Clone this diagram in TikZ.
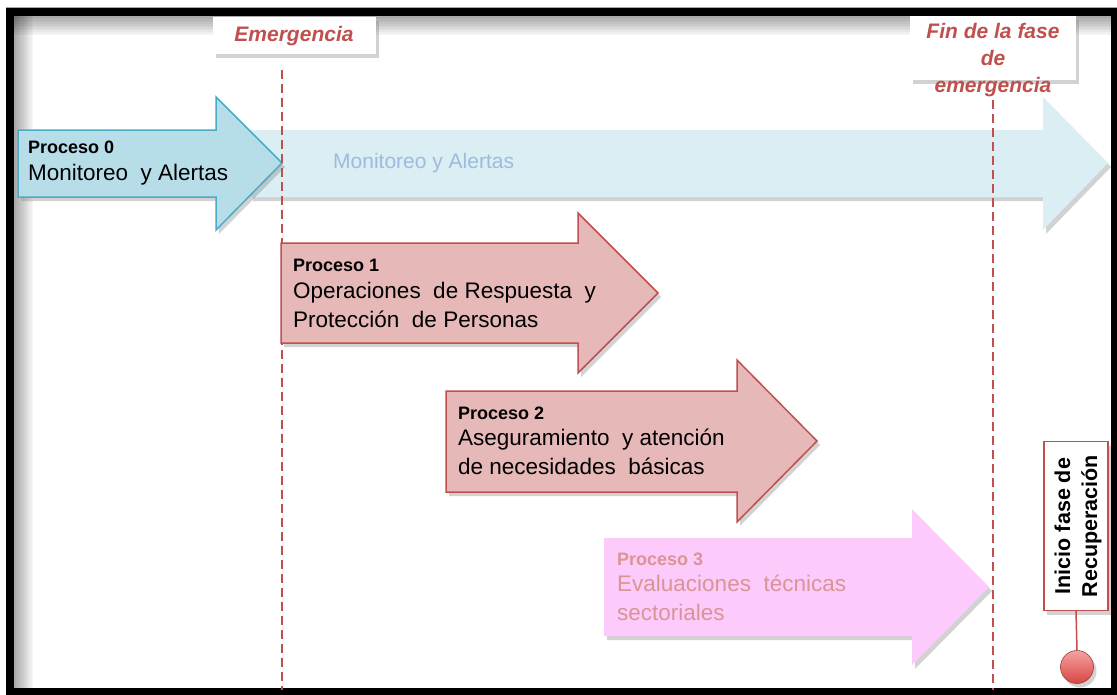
\documentclass[tikz,border=0pt]{standalone}
\usepackage{fontspec}
\setmainfont{Liberation Sans}
\usetikzlibrary{shadows}
\definecolor{blueFill}{HTML}{B7DDE8}
\definecolor{blueLine}{HTML}{4BACC6}
\definecolor{faintBlue}{HTML}{DAEEF3}
\definecolor{faintText}{HTML}{9CBBDD}
\definecolor{redFill}{HTML}{E6B9B8}
\definecolor{redLine}{HTML}{C0504D}
\definecolor{pinkFill}{HTML}{FCCBFC}
\definecolor{pinkText}{HTML}{D99594}
\definecolor{ballTop}{HTML}{F4A3A3}
\definecolor{ballBot}{HTML}{D84540}
\tikzset{
  shad/.style={drop shadow={opacity=0.35, shadow xshift=3pt, shadow yshift=-4pt}},
  proctitle/.style={font=\fontsize{18}{20}\selectfont\bfseries, anchor=base west, inner sep=0pt},
  procbody/.style={font=\fontsize{22.5}{29}\selectfont, anchor=base west, inner sep=0pt, align=left},
  phaseline/.style={draw=redLine, line width=2.6pt, dash pattern=on 9pt off 5pt},
  phaselabel/.style={font=\fontsize{21}{27}\selectfont\bfseries\itshape, text=redLine, align=center, inner sep=0pt},
  labelbox/.style={fill=white, inner sep=0pt, shad}
}
\begin{document}
\begin{tikzpicture}[x=1pt,y=-1pt]
\useasboundingbox (0,0) rectangle (1117,694);
\fill[white] (0,0) rectangle (1117,694);
% inner shadow of the frame
\foreach \i in {1,...,12} {
  \fill[black, opacity=0.03] (14,16) rectangle ({14+1.6*\i},690);
  \fill[black, opacity=0.03] (14,16) rectangle (1112,{16+1.6*\i});
}
% frame
\draw[black!35, line width=1pt] (6,7.5) -- (1117,7.5);
\draw[black, line width=8pt] (10,12) rectangle (1115,692);

% background arrow: Monitoreo y Alertas (continued)
\fill[faintBlue, shad] (250,130) -- (1043,130) -- (1043,97) -- (1108,163) -- (1043,230) -- (1043,197) -- (250,197) -- cycle;
\node[font=\fontsize{21}{25}\selectfont, text=faintText, anchor=base west, inner sep=0pt] (monfaint) at (333,168) {Monitoreo y Alertas};

% Proceso 0
\filldraw[fill=blueFill, draw=blueLine, line width=1.5pt, shad] (18,130) -- (216,130) -- (216,97) -- (282,163) -- (216,230) -- (216,197) -- (18,197) -- cycle;
\node[proctitle] (p0t) at (28,153) {Proceso 0};
\node[procbody] (p0b) at (28,180) {Monitoreo\ \ y Alertas};

% phase lines
\coordinate (em1) at (282,70);
\coordinate (em2) at (282,690);
\coordinate (fin1) at (993,100);
\coordinate (fin2) at (993,690);
\draw[phaseline] (em1) -- (em2);
\draw[phaseline] (fin1) -- (fin2);

% Proceso 1
\filldraw[fill=redFill, draw=redLine, line width=1.5pt, shad] (281,243) -- (578,243) -- (578,213) -- (658,293) -- (578,373) -- (578,343) -- (281,343) -- cycle;
\node[proctitle] (p1t) at (293,271) {Proceso 1};
\node[procbody] (p1b) at (293,327) {Operaciones\ \ de Respuesta\ \ y\\Protección\ \ de Personas};

% Proceso 2
\filldraw[fill=redFill, draw=redLine, line width=1.5pt, shad] (446,391) -- (737,391) -- (737,360) -- (817,441) -- (737,522) -- (737,492) -- (446,492) -- cycle;
\node[proctitle] (p2t) at (458,419) {Proceso 2};
\node[procbody] (p2b) at (458,474) {Aseguramiento\ \ y atención\\de necesidades\ \ básicas};

% Proceso 3
\fill[pinkFill, shad] (604,538) -- (912,538) -- (912,509) -- (989,587) -- (912,665) -- (912,636) -- (604,636) -- cycle;
\node[proctitle, text=pinkText] (p3t) at (617,565) {Proceso 3};
\node[procbody, text=pinkText] (p3b) at (617,620) {Evaluaciones\ \ técnicas\\sectoriales};

% labels
\node[labelbox, minimum width=163pt, minimum height=37pt] (embox) at (294,35) {};
\node[phaselabel] (emtext) at (294,36) {Emergencia};
\node[labelbox, minimum width=166pt, minimum height=64pt] (finbox) at (993,48) {};
\node[phaselabel] (fintext) at (993,60) {Fin de la fase\\de\\emergencia};

% Inicio fase de Recuperación
\node[labelbox, draw=redLine, line width=1.2pt, minimum width=64pt, minimum height=169pt] (inicio) at (1076,526) {};
\node[rotate=90, font=\fontsize{21.5}{27}\selectfont\bfseries, align=center, inner sep=0pt] (iniciotext) at ([xshift=2pt]inicio.center) {Inicio fase de\\Recuperación};
\node[circle, minimum size=33pt, inner sep=0pt, draw=redLine!80!black, line width=0.6pt, top color=ballTop, bottom color=ballBot, shad] (dot) at (1077,667) {};
\draw[redLine, line width=1.5pt] (inicio.south) -- (dot.north);
\end{tikzpicture}
\end{document}
